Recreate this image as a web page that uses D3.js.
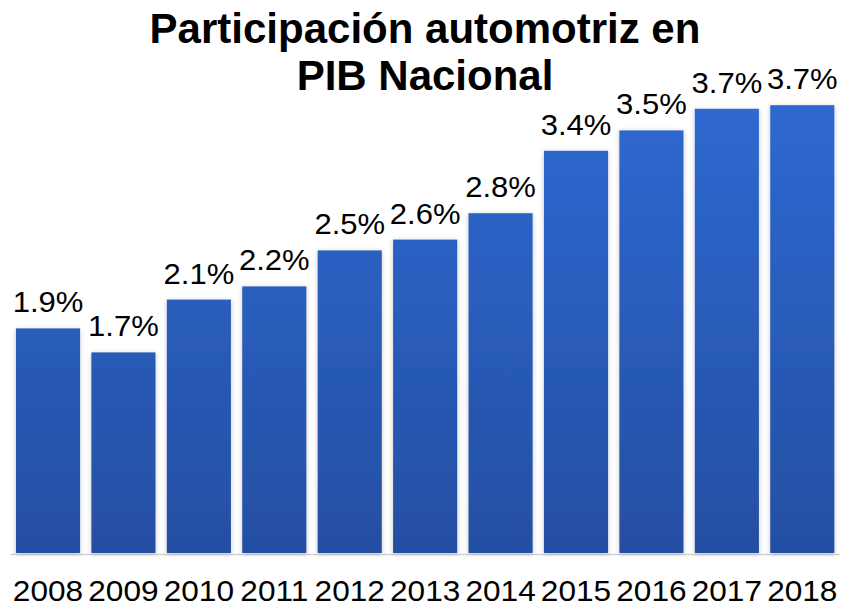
<!DOCTYPE html>
<html>
<head>
<meta charset="utf-8">
<script src="https://cdn.jsdelivr.net/npm/d3@7"></script>
<style>
  body { margin: 0; background: #fff; }
  text { font-family: "Liberation Sans", Arial, sans-serif; fill: #000; }
  .title { font-weight: bold; font-size: 42px; }
  .value-label { font-size: 29px; }
  .axis text { font-size: 29px; }
</style>
</head>
<body>
<svg id="chart" width="841" height="606"></svg>
<script>
const width = 841;
const height = 606;

// data
const years = ["2008", "2009", "2010", "2011", "2012", "2013", "2014", "2015", "2016", "2017", "2018"];
const shares = [1.88, 1.68, 2.12, 2.23, 2.53, 2.62, 2.84, 3.36, 3.53, 3.71, 3.74];
const titleLines = ["Participación automotriz en", "PIB Nacional"];

const svg = d3.select("svg#chart");

/* SCALES */
const x = d3.scaleBand()
  .domain(years)
  .range([10.3, 840])
  .paddingInner(0.15)
  .paddingOuter(0.075);

const y = d3.scaleLinear()
  .domain([0, 4])
  .range([554, 74]);

/* DEFS: gradient + soft shadow */
const defs = svg.append("defs");

const grad = defs.append("linearGradient")
  .attr("id", "barGrad")
  .attr("gradientUnits", "userSpaceOnUse")
  .attr("x1", 0).attr("y1", y(4))
  .attr("x2", 0).attr("y2", y(0));
grad.append("stop").attr("offset", "0%").attr("stop-color", "#2f6ad4");
grad.append("stop").attr("offset", "100%").attr("stop-color", "#244fa2");

const shadow = defs.append("filter")
  .attr("id", "shadow")
  .attr("x", "-20%").attr("y", "-5%")
  .attr("width", "140%").attr("height", "110%");
shadow.append("feDropShadow")
  .attr("dx", 0).attr("dy", 1)
  .attr("stdDeviation", 2.5)
  .attr("flood-color", "#000")
  .attr("flood-opacity", 0.22);

/* BASELINE */
svg.append("line")
  .attr("x1", x.range()[0]).attr("x2", x.range()[1])
  .attr("y1", y(0) + 0.5).attr("y2", y(0) + 0.5)
  .attr("stroke", "#d4d4d4")
  .attr("stroke-width", 1.5);

/* BARS */
const bars = svg.append("g").attr("id", "bars");

bars.selectAll("rect")
  .data(years)
  .enter()
  .append("rect")
  .attr("x", d => x(d))
  .attr("width", x.bandwidth())
  .attr("y", (d, i) => y(shares[i]))
  .attr("height", (d, i) => y(0) - 1 - y(shares[i]))
  .attr("fill", "url(#barGrad)")
  .attr("filter", "url(#shadow)");

/* VALUE LABELS (slightly wide, like the original) */
bars.selectAll("text.value-label")
  .data(years)
  .enter()
  .append("text")
  .attr("class", "value-label")
  .attr("transform", (d, i) =>
    translate(x(d) + x.bandwidth() / 2, y(shares[i]) - 16) + " scale(1.07,1)")
  .attr("text-anchor", "middle")
  .text((d, i) => shares[i].toFixed(1) + "%");

/* X AXIS */
const xAxis = d3.axisBottom(x).tickSize(0).tickPadding(0);
const xGroup = svg.append("g")
  .attr("class", "axis")
  .attr("transform", translate(0, 575))
  .call(xAxis);
xGroup.select(".domain").remove();
xGroup.selectAll("text")
  .attr("dy", null)
  .attr("y", 26)
  .attr("transform", "scale(1.09,1)")
  .attr("fill", "#000")
  .style("font-family", "'Liberation Sans', Arial, sans-serif");

/* TITLE */
const title = svg.append("text")
  .attr("class", "title")
  .attr("text-anchor", "middle");
title.selectAll("tspan")
  .data(titleLines)
  .enter()
  .append("tspan")
  .attr("x", 425)
  .attr("y", (d, i) => 43 + i * 47)
  .text(d => d);

function translate(tx, ty) {
  return "translate(" + String(tx) + "," + String(ty) + ")";
}
</script>
</body>
</html>
